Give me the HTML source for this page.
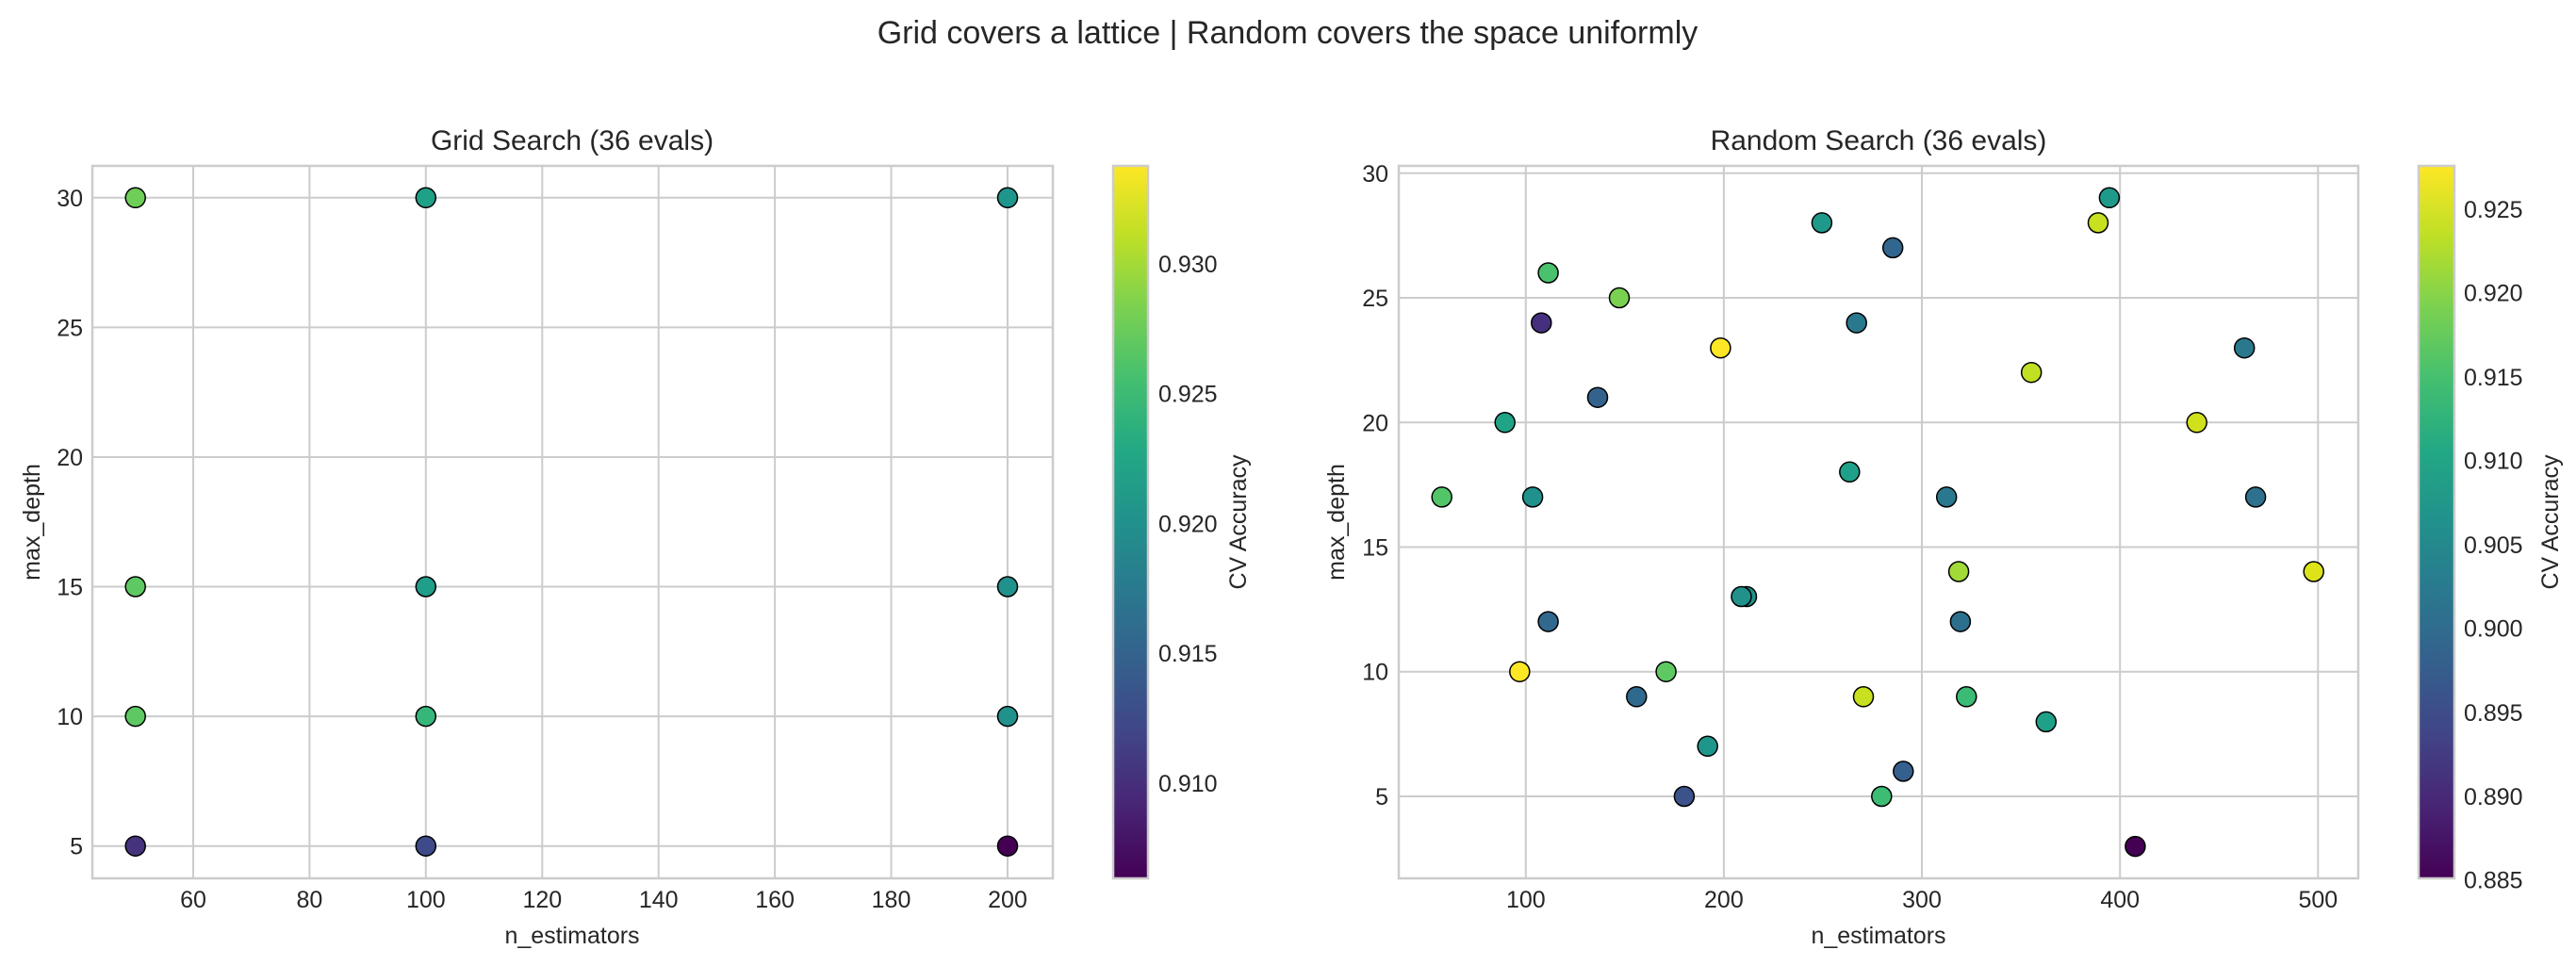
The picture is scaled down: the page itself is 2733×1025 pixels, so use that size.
<!DOCTYPE html>
<html><head><meta charset="utf-8"><style>
html,body{margin:0;padding:0;background:#fff}
svg{display:block}
text{font-family:"Liberation Sans",Arial,sans-serif;fill:#262626}
</style></head><body>
<svg width="2733" height="1025" viewBox="0 0 2733 1025" xmlns="http://www.w3.org/2000/svg">
<defs>
<linearGradient id="vir" x1="0" y1="1" x2="0" y2="0">
<stop offset="0" stop-color="#440154"/><stop offset="0.1" stop-color="#482475"/><stop offset="0.2" stop-color="#414487"/><stop offset="0.3" stop-color="#355f8d"/><stop offset="0.4" stop-color="#2a788e"/><stop offset="0.5" stop-color="#21918c"/><stop offset="0.6" stop-color="#22a884"/><stop offset="0.7" stop-color="#44bf70"/><stop offset="0.8" stop-color="#7ad151"/><stop offset="0.9" stop-color="#bddf26"/><stop offset="1" stop-color="#fde725"/>
</linearGradient>
</defs>
<text x="1366" y="46" font-size="34" text-anchor="middle">Grid covers a lattice | Random covers the space uniformly</text>

<!-- LEFT -->
<text x="607" y="159" font-size="30" text-anchor="middle">Grid Search (36 evals)</text>
<g stroke="#cccccc" stroke-width="2">
<line x1="205" y1="176" x2="205" y2="932"/><line x1="328.4" y1="176" x2="328.4" y2="932"/><line x1="451.8" y1="176" x2="451.8" y2="932"/><line x1="575.3" y1="176" x2="575.3" y2="932"/><line x1="698.7" y1="176" x2="698.7" y2="932"/><line x1="822.1" y1="176" x2="822.1" y2="932"/><line x1="945.5" y1="176" x2="945.5" y2="932"/><line x1="1069" y1="176" x2="1069" y2="932"/>
<line x1="98" y1="897.7" x2="1117" y2="897.7"/><line x1="98" y1="760.1" x2="1117" y2="760.1"/><line x1="98" y1="622.5" x2="1117" y2="622.5"/><line x1="98" y1="485" x2="1117" y2="485"/><line x1="98" y1="347.4" x2="1117" y2="347.4"/><line x1="98" y1="209.8" x2="1117" y2="209.8"/>
</g>
<rect x="98" y="176" width="1019" height="756" fill="none" stroke="#cccccc" stroke-width="2.5"/>
<g font-size="25">
<g text-anchor="middle">
<text x="205" y="963">60</text><text x="328.4" y="963">80</text><text x="451.8" y="963">100</text><text x="575.3" y="963">120</text><text x="698.7" y="963">140</text><text x="822.1" y="963">160</text><text x="945.5" y="963">180</text><text x="1069" y="963">200</text>
</g>
<g text-anchor="end">
<text x="88" y="906.7">5</text><text x="88" y="769.1">10</text><text x="88" y="631.5">15</text><text x="88" y="494">20</text><text x="88" y="356.4">25</text><text x="88" y="218.8">30</text>
</g>
<text x="607" y="1001" text-anchor="middle">n_estimators</text>
<text transform="translate(42,554) rotate(-90)" text-anchor="middle">max_depth</text>
</g>
<g stroke="#000" stroke-width="1.5">
<circle cx="143.7" cy="209.8" r="10.5" fill="#6ece58"/><circle cx="451.8" cy="209.8" r="10.5" fill="#1fa187"/><circle cx="1069" cy="209.8" r="10.5" fill="#1f968b"/>
<circle cx="143.7" cy="622.5" r="10.5" fill="#5ec962"/><circle cx="451.8" cy="622.5" r="10.5" fill="#1f9e89"/><circle cx="1069" cy="622.5" r="10.5" fill="#21918c"/>
<circle cx="143.7" cy="760.1" r="10.5" fill="#5ec962"/><circle cx="451.8" cy="760.1" r="10.5" fill="#35b779"/><circle cx="1069" cy="760.1" r="10.5" fill="#21918c"/>
<circle cx="143.7" cy="897.7" r="10.5" fill="#46337e"/><circle cx="451.8" cy="897.7" r="10.5" fill="#3e4a89"/><circle cx="1069" cy="897.7" r="10.5" fill="#440154"/>
</g>
<rect x="1181" y="176" width="37" height="756" fill="url(#vir)" stroke="#cccccc" stroke-width="2.5"/>
<g font-size="25">
<text x="1229" y="289">0.930</text><text x="1229" y="426.6">0.925</text><text x="1229" y="564.7">0.920</text><text x="1229" y="702.2">0.915</text><text x="1229" y="839.8">0.910</text>
<text transform="translate(1322,554) rotate(-90)" text-anchor="middle">CV Accuracy</text>
</g>

<!-- RIGHT -->
<text x="1993" y="159" font-size="30" text-anchor="middle">Random Search (36 evals)</text>
<g stroke="#cccccc" stroke-width="2">
<line x1="1618.8" y1="176" x2="1618.8" y2="932"/><line x1="1828.9" y1="176" x2="1828.9" y2="932"/><line x1="2039" y1="176" x2="2039" y2="932"/><line x1="2249.2" y1="176" x2="2249.2" y2="932"/><line x1="2459.3" y1="176" x2="2459.3" y2="932"/>
<line x1="1484" y1="845" x2="2502" y2="845"/><line x1="1484" y1="712.7" x2="2502" y2="712.7"/><line x1="1484" y1="580.5" x2="2502" y2="580.5"/><line x1="1484" y1="448.3" x2="2502" y2="448.3"/><line x1="1484" y1="316" x2="2502" y2="316"/><line x1="1484" y1="183.8" x2="2502" y2="183.8"/>
</g>
<rect x="1484" y="176" width="1018" height="756" fill="none" stroke="#cccccc" stroke-width="2.5"/>
<g font-size="25">
<g text-anchor="middle">
<text x="1618.8" y="963">100</text><text x="1828.9" y="963">200</text><text x="2039" y="963">300</text><text x="2249.2" y="963">400</text><text x="2459.3" y="963">500</text>
</g>
<g text-anchor="end">
<text x="1473" y="854">5</text><text x="1473" y="721.7">10</text><text x="1473" y="589.5">15</text><text x="1473" y="457.3">20</text><text x="1473" y="325">25</text><text x="1473" y="192.8">30</text>
</g>
<text x="1993" y="1001" text-anchor="middle">n_estimators</text>
<text transform="translate(1426,554) rotate(-90)" text-anchor="middle">max_depth</text>
</g>
<g stroke="#000" stroke-width="1.5">
<circle cx="2237.9" cy="209.8" r="10.5" fill="#1f9a8a"/>
<circle cx="2226" cy="236.4" r="10.5" fill="#c8e020"/>
<circle cx="1932.9" cy="236.4" r="10.5" fill="#1f9a8a"/>
<circle cx="2008.2" cy="262.9" r="10.5" fill="#31678e"/>
<circle cx="1642.6" cy="289.5" r="10.5" fill="#4ac16d"/>
<circle cx="1718" cy="316" r="10.5" fill="#7ad151"/>
<circle cx="1635.3" cy="342.6" r="10.5" fill="#46307e"/>
<circle cx="1969.7" cy="342.6" r="10.5" fill="#2a788e"/>
<circle cx="1825.4" cy="369.2" r="10.5" fill="#fde725"/>
<circle cx="2381.2" cy="369.2" r="10.5" fill="#2a788e"/>
<circle cx="2155.2" cy="395.2" r="10.5" fill="#c2df23"/>
<circle cx="1695" cy="421.7" r="10.5" fill="#33638d"/>
<circle cx="1596.7" cy="448.3" r="10.5" fill="#20a386"/>
<circle cx="2330.7" cy="448.3" r="10.5" fill="#d0e11c"/>
<circle cx="1962.3" cy="500.8" r="10.5" fill="#1fa088"/>
<circle cx="1529.7" cy="527.4" r="10.5" fill="#52c569"/>
<circle cx="1626.1" cy="527.4" r="10.5" fill="#21918c"/>
<circle cx="2065.2" cy="527.4" r="10.5" fill="#2a788e"/>
<circle cx="2393.1" cy="527.4" r="10.5" fill="#2d718e"/>
<circle cx="2078.1" cy="606.5" r="10.5" fill="#a2da37"/>
<circle cx="2454.7" cy="606.5" r="10.5" fill="#dde318"/>
<circle cx="1853" cy="633" r="10.5" fill="#21918c"/>
<circle cx="1847.5" cy="633" r="10.5" fill="#21918c"/>
<circle cx="1642.6" cy="659.6" r="10.5" fill="#31688e"/>
<circle cx="2079.9" cy="659.6" r="10.5" fill="#2d708e"/>
<circle cx="1612.3" cy="712.7" r="10.5" fill="#fde725"/>
<circle cx="1767.6" cy="712.7" r="10.5" fill="#5ec962"/>
<circle cx="1736.3" cy="739.3" r="10.5" fill="#30698e"/>
<circle cx="1977" cy="739.3" r="10.5" fill="#c8e020"/>
<circle cx="2086.3" cy="739.3" r="10.5" fill="#3bbb75"/>
<circle cx="2170.8" cy="765.9" r="10.5" fill="#1fa088"/>
<circle cx="1811.7" cy="791.8" r="10.5" fill="#1f968b"/>
<circle cx="2019.3" cy="818.4" r="10.5" fill="#355f8d"/>
<circle cx="1786.9" cy="845" r="10.5" fill="#3b528b"/>
<circle cx="1996.3" cy="845" r="10.5" fill="#3dbc74"/>
<circle cx="2265.4" cy="898.1" r="10.5" fill="#440154"/>
</g>
<rect x="2566" y="176" width="38" height="756" fill="url(#vir)" stroke="#cccccc" stroke-width="2.5"/>
<g font-size="25">
<text x="2614" y="231.2">0.925</text><text x="2614" y="319.7">0.920</text><text x="2614" y="408.9">0.915</text><text x="2614" y="497.4">0.910</text><text x="2614" y="587.1">0.905</text><text x="2614" y="675.7">0.900</text><text x="2614" y="764.8">0.895</text><text x="2614" y="854">0.890</text><text x="2614" y="942.5">0.885</text>
<text transform="translate(2714,554) rotate(-90)" text-anchor="middle">CV Accuracy</text>
</g>
</svg>
</body></html>
